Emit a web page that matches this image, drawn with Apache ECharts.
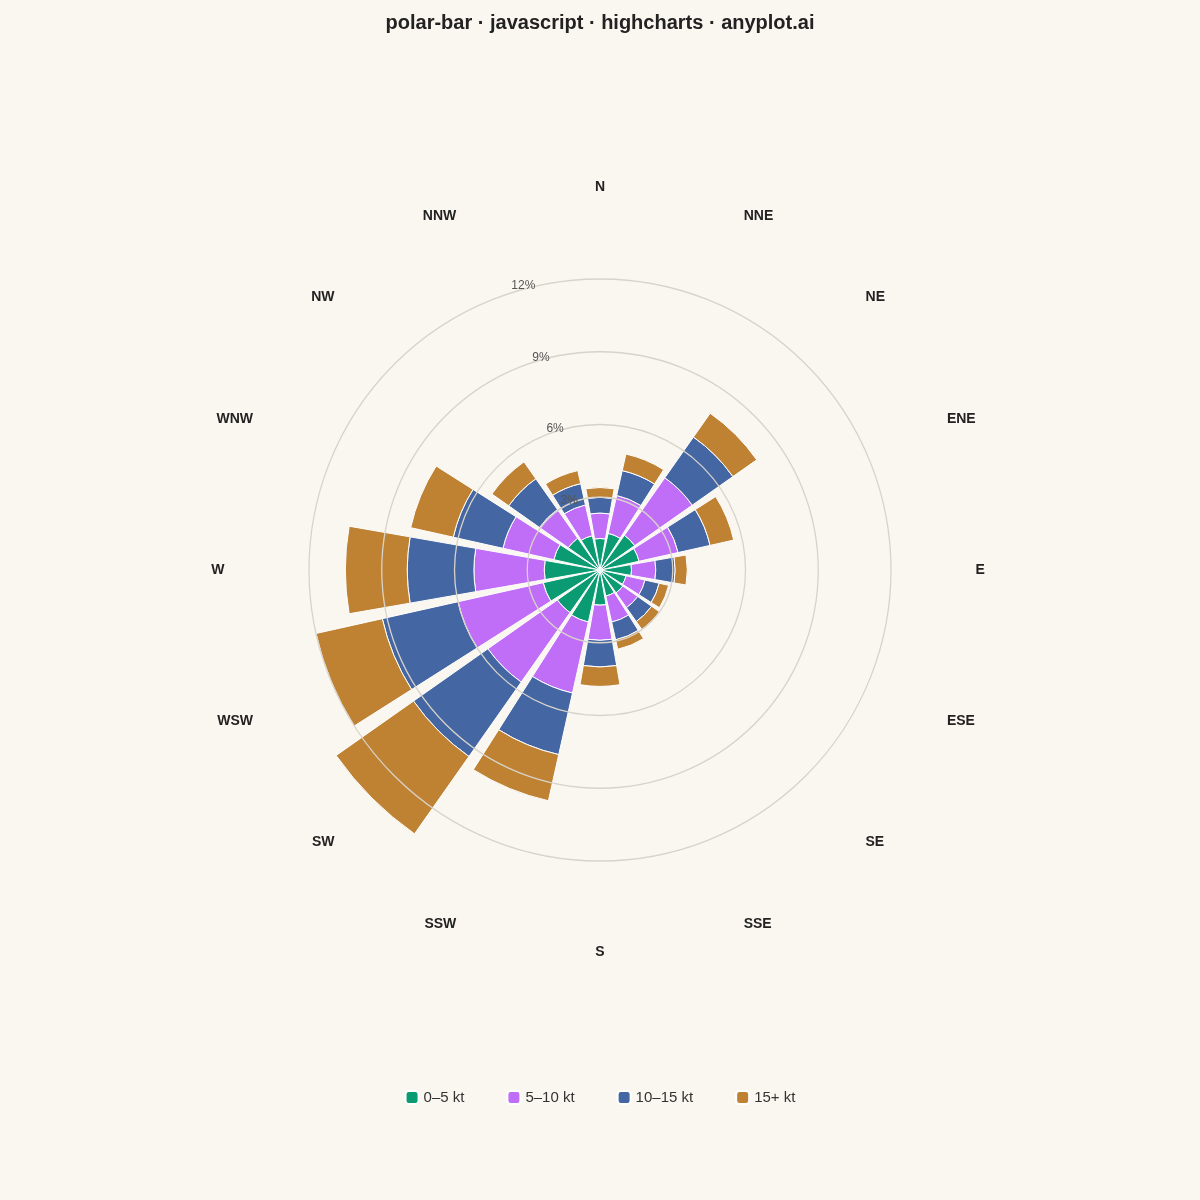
<!DOCTYPE html>
<html><head><meta charset="utf-8">
<script src="https://cdn.jsdelivr.net/npm/echarts@6/dist/echarts.min.js"></script>
<style>html,body{margin:0;background:#faf7f0}#c{width:1200px;height:1200px}</style>
</head><body><div id="c"></div>
<script>
const directions = ['N','NNE','NE','ENE','E','ESE','SE','SSE','S','SSW','SW','WSW','W','WNW','NW','NNW'];
const speed0_5   = [1.3,1.55,1.75,1.65,1.3,1.1,1.15,1.1,1.45,2.2,2.15,2.4,2.3,1.95,1.6,1.45];
const speed5_10  = [1.05,1.6,2.9,1.65,1.0,0.8,0.75,1.1,1.45,3.0,3.5,3.6,2.9,2.15,1.45,1.3];
const speed10_15 = [0.65,1.05,2.05,1.35,0.8,0.6,0.7,0.75,1.1,2.6,3.75,3.2,2.75,2.1,1.55,0.9];
const speed15p   = [0.4,0.7,1.2,1.0,0.5,0.4,0.4,0.4,0.8,1.95,3.9,2.8,2.55,1.8,0.85,0.55];
const seriesNames = ['0–5 kt','5–10 kt','10–15 kt','15+ kt'];
const colors = ['#0a9b72','#c06ef8','#4466a3','#bf8233'];
const chart = echarts.init(document.getElementById('c'));
const data = [speed0_5, speed5_10, speed10_15, speed15p];
chart.setOption({
  backgroundColor:'#faf7f0',
  color: colors,
  title:{text:'polar-bar · javascript · highcharts · anyplot.ai',left:'center',top:8,
    textStyle:{fontFamily:'Liberation Sans',fontSize:20,fontWeight:'bold',color:'#222'}},
  legend:{bottom:90,itemGap:42,icon:'roundRect',itemWidth:13,itemHeight:13,
    textStyle:{fontFamily:'Liberation Sans',fontSize:15,color:'#333'}},
  polar:{center:['50%',570],radius:339.5},
  angleAxis:{type:'category',data:directions,startAngle:101.25,clockwise:true,
    axisLine:{show:false},axisTick:{show:false},splitLine:{show:false},
    axisLabel:{margin:36,fontFamily:'Liberation Sans',fontSize:14,fontWeight:'bold',color:'#222'}},
  radiusAxis:{min:0,max:14,interval:3,axisLine:{show:false},axisTick:{show:false},
    axisLabel:{formatter:v=>v===0||v>12?'':v+'%',fontFamily:'Liberation Sans',fontSize:12,color:'#555'},
    splitLine:{show:true,lineStyle:{color:['#d8d3ca','#d8d3ca','#d8d3ca','#d8d3ca','#d8d3ca','rgba(0,0,0,0)'],width:1.3}},
    z:10},
  series: data.map((d,i)=>({type:'bar',name:seriesNames[i],data:d,coordinateSystem:'polar',stack:'w',
    barCategoryGap:'12%',itemStyle:{borderColor:'#ffffff',borderWidth:1}}))
});
</script></body></html>
